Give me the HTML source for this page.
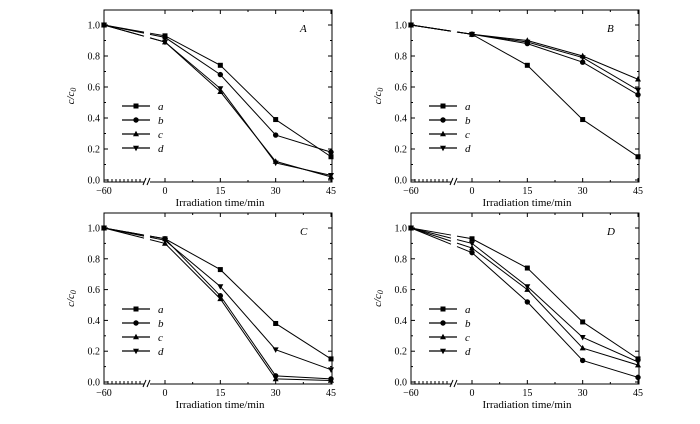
<!DOCTYPE html>
<html><head><meta charset="utf-8"><style>
body{margin:0;background:#fff}
svg{display:block}
text{font-family:"Liberation Serif",serif;fill:#000}
</style></head><body>
<svg id="c" width="700" height="424" viewBox="0 0 700 424" xmlns="http://www.w3.org/2000/svg"></svg>
<script>
const times=[-60,0,15,30,45];
const seriesNames=['a','b','c','d'];
const panelLabels=['A','B','C','D'];
const yTicks=[0.0,0.2,0.4,0.6,0.8,1.0];
const xTickLabels=['\u221260','0','15','30','45'];
const panelA_a=[1,0.93,0.74,0.39,0.15];
const panelA_b=[1,0.92,0.68,0.29,0.18];
const panelA_c=[1,0.89,0.57,0.12,0.02];
const panelA_d=[1,0.89,0.59,0.11,0.03];
const panelB_a=[1,0.94,0.74,0.39,0.15];
const panelB_b=[1,0.94,0.88,0.76,0.55];
const panelB_c=[1,0.94,0.90,0.80,0.65];
const panelB_d=[1,0.94,0.89,0.79,0.58];
const panelC_a=[1,0.93,0.73,0.38,0.15];
const panelC_b=[1,0.93,0.56,0.04,0.02];
const panelC_c=[1,0.90,0.54,0.02,0.01];
const panelC_d=[1,0.92,0.62,0.21,0.08];
const panelD_a=[1,0.93,0.74,0.39,0.15];
const panelD_b=[1,0.84,0.52,0.14,0.03];
const panelD_c=[1,0.87,0.60,0.22,0.11];
const panelD_d=[1,0.90,0.62,0.29,0.13];
const panelData=[[panelA_a,panelA_b,panelA_c,panelA_d],[panelB_a,panelB_b,panelB_c,panelB_d],[panelC_a,panelC_b,panelC_c,panelC_d],[panelD_a,panelD_b,panelD_c,panelD_d]];

const NS='http://www.w3.org/2000/svg';
const svg=document.getElementById('c');
function mk(tag,attrs,parent){const e=document.createElementNS(NS,tag);for(const k in attrs)e.setAttribute(k,attrs[k]);(parent||svg).appendChild(e);return e;}
const layouts=[{L:104,T:10,B:182,y0:180,y1:25},{L:411,T:10,B:182,y0:180,y1:25},{L:104,T:213,B:384,y0:382,y1:228},{L:411,T:213,B:384,y0:382,y1:228}];

function marker(g,k,x,y){
  let e;
  if(k===0)e=mk('rect',{x:x-2.5,y:y-2.5,width:5,height:5,fill:'#000'},g);
  else if(k===1)e=mk('circle',{cx:x,cy:y,r:2.7,fill:'#000'},g);
  else if(k===2)e=mk('polygon',{points:`${x},${y-3.2} ${x-3},${y+2.3} ${x+3},${y+2.3}`,fill:'#000'},g);
  else e=mk('polygon',{points:`${x},${y+3.2} ${x-3},${y-2.3} ${x+3},${y-2.3}`,fill:'#000'},g);
  
  
}

layouts.forEach((p,pi)=>{
  const g=mk('g',{});
  
  
  const R=p.L+228;
  const xs=t=>t<0?p.L:p.L+61+t*(166/45);
  const ys=v=>p.y0-v*(p.y0-p.y1);
  const brk=p.L+40;
  const fr=mk('rect',{x:p.L,y:p.T,width:228,height:p.B-p.T,fill:'none',stroke:'#000','stroke-width':1},g);
  
  // y ticks
  yTicks.forEach(v=>{
    const y=ys(v);
    mk('line',{x1:p.L,x2:p.L+4,y1:y,y2:y,stroke:'#000'},g);
    mk('line',{x1:R,x2:R-4,y1:y,y2:y,stroke:'#000'},g);
    const t=mk('text',{x:p.L-4,y:y+3.5,'font-size':10,'text-anchor':'end'},g);t.textContent=v.toFixed(1);
    
    if(v<1){const ym=ys(v+0.1);mk('line',{x1:p.L,x2:p.L+2,y1:ym,y2:ym,stroke:'#000'},g);mk('line',{x1:R,x2:R-2,y1:ym,y2:ym,stroke:'#000'},g);}
  });
  // x ticks
  times.forEach((t,i)=>{
    const x=xs(t);
    mk('line',{x1:x,x2:x,y1:p.B,y2:p.B-4,stroke:'#000'},g);
    mk('line',{x1:x,x2:x,y1:p.T,y2:p.T+4,stroke:'#000'},g);
    if(i>0){const xm=xs(t-7.5);mk('line',{x1:xm,x2:xm,y1:p.B,y2:p.B-2,stroke:'#000'},g);mk('line',{x1:xm,x2:xm,y1:p.T,y2:p.T+2,stroke:'#000'},g);}
    const tx=mk('text',{x:x,y:p.B+12,'font-size':10,'text-anchor':'middle'},g);tx.textContent=xTickLabels[i];
    
  });
  for(let k=1;k<10;k++){const x=p.L+k*4;mk('line',{x1:x,x2:x,y1:p.B,y2:p.B-3,stroke:'#000'},g);}
  // break marks
  mk('rect',{x:brk,y:p.B-4,width:6,height:8,fill:'#fff'},g);
  mk('line',{x1:brk-1,y1:p.B+3,x2:brk+2,y2:p.B-4,stroke:'#000'},g);
  mk('line',{x1:brk+3,y1:p.B+3,x2:brk+6,y2:p.B-4,stroke:'#000'},g);
  // series
  panelData[pi].forEach((arr,k)=>{
    const sg=mk('g',{},g);
    
    
    const x0=xs(times[0]),y0=ys(arr[0]),x1=xs(times[1]),y1=ys(arr[1]);
    const f1=(brk-x0)/(x1-x0),f2=(brk+6-x0)/(x1-x0);
    mk('line',{x1:x0,y1:y0,x2:brk,y2:y0+(y1-y0)*f1,stroke:'#000','stroke-width':1},sg);
    let pts=`${brk+6},${y0+(y1-y0)*f2}`;
    for(let i=1;i<times.length;i++)pts+=` ${xs(times[i])},${ys(arr[i])}`;
    mk('polyline',{points:pts,fill:'none',stroke:'#000','stroke-width':1},sg);
    times.forEach((t,i)=>marker(sg,k,xs(t),ys(arr[i])));
    // legend
    const ly=p.T+96+k*14;
    const lg=mk('g',{},g);
    
    
    mk('line',{x1:p.L+18,x2:p.L+46,y1:ly,y2:ly,stroke:'#000','stroke-width':1.3},lg);
    marker(lg,k,p.L+32,ly);
    const lt=mk('text',{x:p.L+54,y:ly+4,'font-size':11,'font-style':'italic'},lg);lt.textContent=seriesNames[k];
  });
  const pl=mk('text',{x:p.L+196,y:p.T+22,'font-size':11,'font-style':'italic'},g);pl.textContent=panelLabels[pi];
  
  const xt=mk('text',{x:p.L+116,y:p.B+24,'font-size':11,'text-anchor':'middle'},g);xt.textContent='Irradiation time/min';
  
  const cy=(p.T+p.B)/2;
  const yt=mk('text',{x:p.L-30,y:cy,'font-size':11,'font-style':'italic','text-anchor':'middle',transform:`rotate(-90 ${p.L-30} ${cy})`},g);
  yt.innerHTML='c/c<tspan font-size="8" dy="2">0</tspan>';
  
});
</script>
</body></html>
